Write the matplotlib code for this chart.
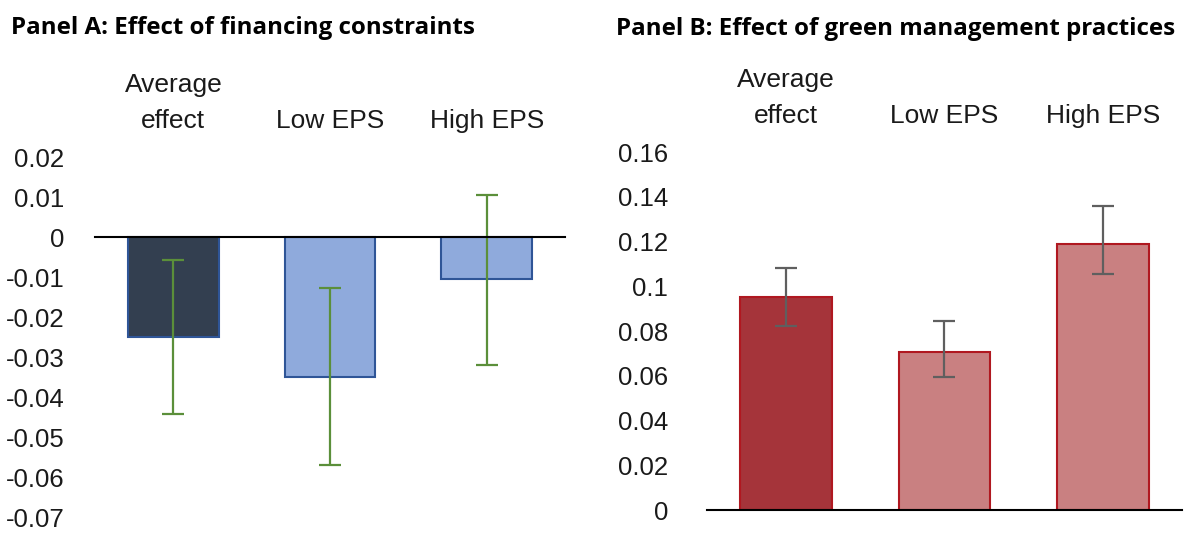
import matplotlib
matplotlib.use("Agg")
import matplotlib.pyplot as plt
from matplotlib import font_manager

categories = ["Average\neffect", "Low EPS", "High EPS"]

# Panel A: effect of financing constraints
a_values = [-0.025, -0.035, -0.0105]
a_err_low = [-0.0442, -0.057, -0.032]
a_err_high = [-0.0058, -0.0128, 0.0106]
a_ticks = [0.02, 0.01, 0, -0.01, -0.02, -0.03, -0.04, -0.05, -0.06, -0.07]
a_ticklabels = ["0.02", "0.01", "0", "-0.01", "-0.02", "-0.03", "-0.04", "-0.05", "-0.06", "-0.07"]

# Panel B: effect of green management practices
b_values = [0.0952, 0.0706, 0.1189]
b_err_low = [0.0822, 0.0594, 0.1055]
b_err_high = [0.108, 0.0845, 0.1359]
b_ticks = [0, 0.02, 0.04, 0.06, 0.08, 0.1, 0.12, 0.14, 0.16]
b_ticklabels = ["0", "0.02", "0.04", "0.06", "0.08", "0.1", "0.12", "0.14", "0.16"]

names = {f.name for f in font_manager.fontManager.ttflist}
tick_font = "Liberation Sans Narrow" if "Liberation Sans Narrow" in names else "Liberation Sans"
title_font = "Open Sans"

fig = plt.figure(figsize=(11.94, 5.33), dpi=100)

def draw(ax, values, lo, hi, ticks, ticklabels, ylim, fills, edges, ecolor, ypad):
    x = list(range(len(values)))
    yerr = [[v - l for v, l in zip(values, lo)], [h - v for v, h in zip(values, hi)]]
    ax.bar(x, values, width=0.58, color=fills, edgecolor=edges, linewidth=1.5, zorder=2)
    ax.errorbar(x, values, yerr=yerr, fmt="none", ecolor=ecolor, elinewidth=1.6,
                capsize=8, capthick=1.6, zorder=3)
    ax.axhline(0, color="black", linewidth=1.5, zorder=4, clip_on=False)
    ax.set_xlim(-0.5, 2.5)
    ax.set_ylim(*ylim)
    for s in ax.spines.values():
        s.set_visible(False)
    ax.set_yticks(ticks)
    ax.set_yticklabels(ticklabels, fontsize=18.5, family=tick_font, color="#1a1a1a")
    ax.xaxis.tick_top()
    ax.set_xticks(x)
    ax.set_xticklabels(categories, fontsize=19, family=tick_font, color="#1a1a1a",
                       linespacing=1.6)
    ax.tick_params(axis="both", length=0)
    ax.tick_params(axis="y", pad=ypad)
    ax.tick_params(axis="x", pad=17.5)

axA = fig.add_axes([0.0796, 0.0295, 0.3936, 0.6759])
draw(axA, a_values, a_err_low, a_err_high, a_ticks, a_ticklabels, (-0.07, 0.02),
     ["#333F50", "#8FAADC", "#8FAADC"], "#2F5597", "#5B8F3A", 22)

axB = fig.add_axes([0.592, 0.043, 0.398, 0.6717])
draw(axB, b_values, b_err_low, b_err_high, b_ticks, b_ticklabels, (0, 0.16),
     ["#A5343A", "#C98081", "#C98081"], "#B01820", "#5F5F5F", 28)

fig.text(0.009, 0.948, "Panel A: Effect of financing constraints", fontsize=17.4,
         fontweight="bold", family=title_font, ha="left", va="center")
fig.text(0.516, 0.945, "Panel B: Effect of green management practices", fontsize=17.4,
         fontweight="bold", family=title_font, ha="left", va="center")

fig.savefig("out.png", dpi=100)
